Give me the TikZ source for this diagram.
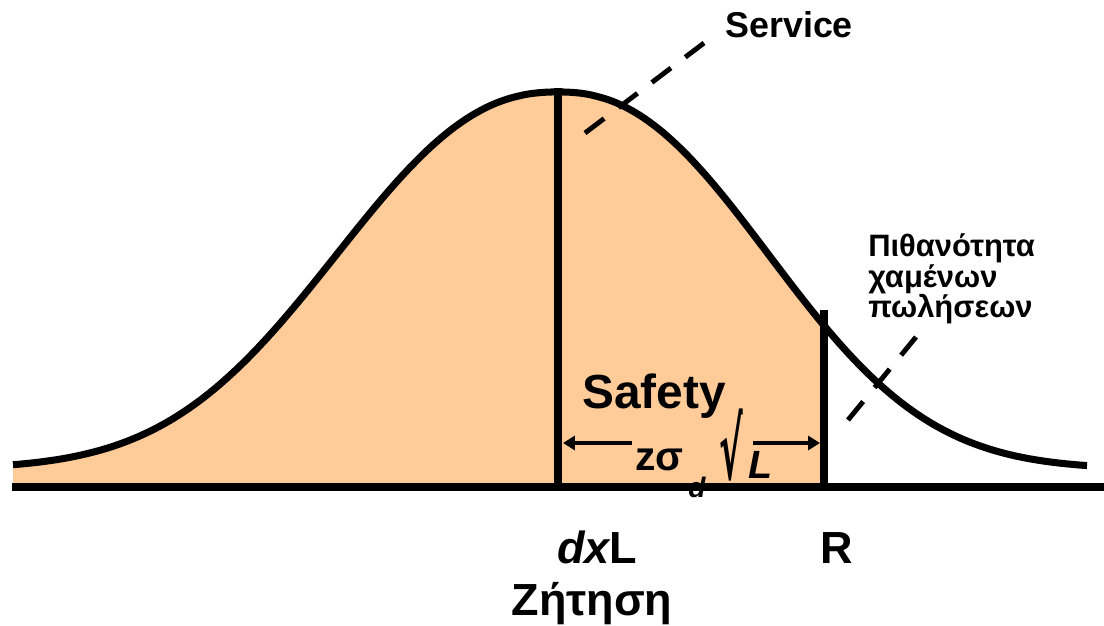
\documentclass[tikz,border=0pt]{standalone}
\usepackage{fontspec}
\setmainfont{Liberation Sans}
\newfontfamily\radfont{DejaVu Sans}
\usetikzlibrary{arrows.meta}
\definecolor{peach}{rgb}{1,0.8,0.6}
\def\bellcurve{plot[domain=13:1087,samples=150,smooth] (\x,{469-377*exp(-(abs(\x-558)/(\x<558?284:270))^2.3)})}

\begin{document}
\begin{tikzpicture}[x=0.025cm,y=-0.025cm,line join=round,
  lbl/.style={inner sep=0pt,font=\bfseries\fontsize{#1}{#1}\selectfont},
  ilbl/.style={inner sep=0pt,font=\bfseries\itshape\fontsize{#1}{#1}\selectfont},
  curve/.style={line width=5pt},
  axis/.style={line width=5.7pt},
  bar/.style={line width=5pt},
  dashline/.style={line width=3.5pt,dash pattern=on 17pt off 12.8pt},
  dimarrow/.style={line width=2.8pt,-{Triangle[length=8.5pt,width=10pt]}}]
  \useasboundingbox (0,0) rectangle (1104,625);
  \begin{scope}
    \clip (0,0) rectangle (824,487);
    \fill[peach] \bellcurve -- (1087,487) -- (13,487) -- cycle;
  \end{scope}
  \draw[curve] \bellcurve;
  \coordinate (left) at (12,487);
  \coordinate (right) at (1104,487);
  \coordinate (mean) at (558,487);
  \coordinate (peak) at (558,88);
  \coordinate (rbase) at (824,487);
  \coordinate (rtop) at (824,310);
  \draw[axis] (left) -- (right);
  \draw[bar] (mean) -- (peak);
  \draw[bar] (rbase) -- (rtop);
  \coordinate (svclo) at (585,133);
  \coordinate (svchi) at (704,43);
  \coordinate (lostlo) at (848,420);
  \coordinate (losthi) at (916,337);
  \draw[dashline] (svclo) -- (svchi);
  \draw[dashline] (lostlo) -- (losthi);
  \node[lbl=25.5,anchor=base west] (service) at (725,37) {Service};
  \node[lbl=22,anchor=north west,align=left] (lost) at (868,233) {Πιθανότητα\\χαμένων\\πωλήσεων};
  \node[lbl=34,anchor=base west] (safety) at (582,408) {Safety};
  \node[lbl=29,anchor=base west] (zsig) at (635,470) {zσ};
  \node[ilbl=20,anchor=base west] (dsub) at (688,497) {d};
  \node[inner sep=0pt,font=\radfont\bfseries\fontsize{60}{60}\selectfont] (root) at (731,445) {\scalebox{0.42}[1]{√}};
  \node[ilbl=28,anchor=base west] (lsym) at (748,478) {L};
  \coordinate (sl) at (563,443);
  \coordinate (sr) at (820,443);
  \coordinate (gl) at (632,443);
  \coordinate (gr) at (753,443);
  \draw[dimarrow] (gl) -- (sl);
  \draw[dimarrow] (gr) -- (sr);
  \node[lbl=32,anchor=base] (dxl) at (597,563) {\itshape dx\upshape L};
  \node[lbl=32,anchor=base] (rlbl) at (837,563) {R};
  \node[lbl=32,anchor=base] (demand) at (592,615) {Ζήτηση};
\end{tikzpicture}
\end{document}
